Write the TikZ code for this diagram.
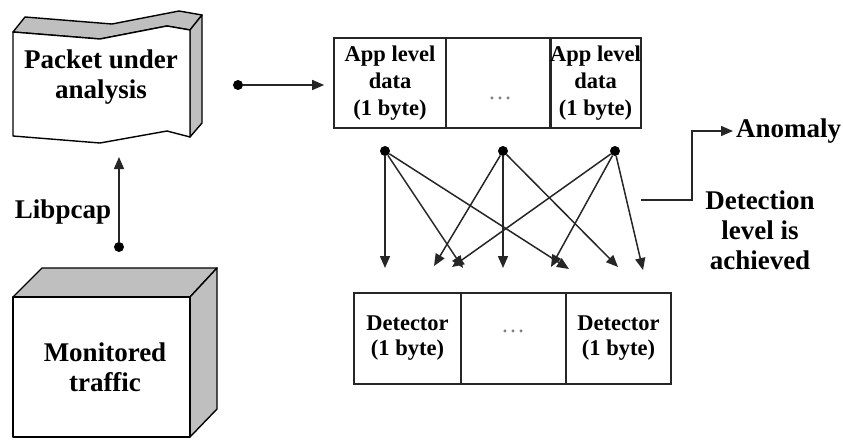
\documentclass[tikz,border=0pt]{standalone}
\usepackage{fontspec}
\setmainfont{Liberation Serif}
\usetikzlibrary{arrows.meta}
\begin{document}
\begin{tikzpicture}[x=1pt,y=-1pt,
  lbl/.style={font=\bfseries\fontsize{27}{30}\selectfont, align=center, inner sep=0pt},
  cell/.style={draw=black!85, line width=1.7pt, minimum height=90pt, inner sep=0pt, font=\bfseries\fontsize{22.5}{27}\selectfont, align=center},
  dcell/.style={cell, font=\bfseries\fontsize{22.5}{25}\selectfont, minimum height=91pt},
  face/.style={draw=black, line width=1.4pt, line join=round},
  conn/.style={draw=black!85, line width=1.5pt, -{Triangle[length=12pt,width=10pt]}},
  dot/.style={circle, fill=black, inner sep=0pt, minimum size=10pt},
  ell/.style={text=gray, font=\fontsize{24}{24}\selectfont, inner sep=0pt}
]
\useasboundingbox (0,0) rectangle (843,439);
\fill[white] (0,0) rectangle (843,439);

% Packet under analysis (wavy 3D block)
\filldraw[face, fill=gray!50] (13,32) -- (100,39) -- (167,26) -- (190,30) -- (202,15) -- (179,11) -- (112,24) -- (25,17) -- cycle;
\filldraw[face, fill=gray!50] (190,30) -- (202,15) -- (202,123) -- (190,137) -- cycle;
\filldraw[face, fill=white] (13,32) -- (100,39) -- (167,26) -- (190,30) -- (190,137) -- (167,131) -- (100,143) -- (13,136) -- cycle;
\node[lbl] (pkt) at (101,77) {Packet under\\analysis};

% Monitored traffic (3D box)
\filldraw[face, fill=gray!50] (13,297) -- (42,268) -- (217,268) -- (190,297) -- cycle;
\filldraw[face, fill=gray!50] (190,297) -- (217,268) -- (217,409) -- (190,437) -- cycle;
\filldraw[face, fill=white] (13,297) rectangle (190,437);
\node[lbl] (mon) at (105,367) {Monitored\\traffic};

% Libpcap
\node[lbl] (lib) at (63,212) {Libpcap};
\node[dot] (ldot) at (119,247) {};
\coordinate (ltip) at (119,157);
\draw[conn] (ldot) -- (ltip);

% App level data row
\node[cell, minimum width=112pt] (a1) at (390,83) {App level\\data\\(1 byte)};
\node[cell, minimum width=105pt] (a2) at (498.5,83) {};
\node[cell, minimum width=89pt] (a3) at (595.5,83) {App level\\data\\(1 byte)};
\node[ell] (adots) at (500,98) {…};
\node[dot] (pdot) at (238,85) {};
\draw[conn, shorten >=9pt] (pdot) -- (pdot -| a1.west);

% Detector row
\node[dcell, minimum width=107pt] (b1) at (407.5,338.5) {Detector\\(1 byte)};
\node[dcell, minimum width=105pt] (b2) at (513.5,338.5) {};
\node[dcell, minimum width=105pt] (b3) at (618.5,338.5) {Detector\\(1 byte)};
\node[ell] (bdots) at (513,331) {…};

% Fan of connectors
\node[dot] (d1) at (385,151) {};
\node[dot] (d2) at (503,151) {};
\node[dot] (d3) at (615,151) {};
\coordinate (t11) at (385,268);
\coordinate (t12) at (463,268);
\coordinate (t13) at (569,269);
\coordinate (t21) at (434,266);
\coordinate (t22) at (503,268);
\coordinate (t23) at (618,267);
\coordinate (t31) at (452,267);
\coordinate (t32) at (551,267);
\coordinate (t33) at (643,270);
\foreach \s/\t in {d1/t11,d1/t12,d1/t13,d2/t21,d2/t22,d2/t23,d3/t31,d3/t32,d3/t33}
  \draw[conn] (\s) -- (\t);

% Anomaly branch
\node[lbl, anchor=west] (anom) at (736,131) {Anomaly};
\node[lbl] (det) at (760,230) {Detection\\level is\\achieved};
\coordinate (dstart) at (641,200);
\draw[conn, shorten >=3pt] (dstart) -- ++(51,0) |- (anom.west);
\end{tikzpicture}
\end{document}
